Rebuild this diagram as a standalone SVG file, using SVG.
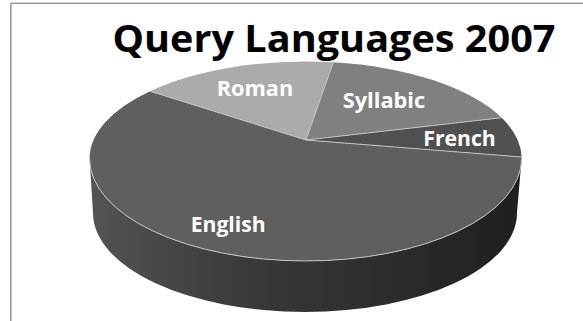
<svg xmlns="http://www.w3.org/2000/svg" width="583" height="321" viewBox="0 0 583 321">
  <defs>
    <linearGradient id="sideGrad" x1="89" y1="0" x2="522" y2="0" gradientUnits="userSpaceOnUse">
      <stop offset="0" stop-color="#545454"/>
      <stop offset="0.35" stop-color="#3a3a3a"/>
      <stop offset="0.7" stop-color="#2c2c2c"/>
      <stop offset="1" stop-color="#1f1f1f"/>
    </linearGradient>
  </defs>
  <style>
    .lbl { font-family: "Open Sans", "Liberation Sans", sans-serif; font-weight: bold; font-size: 21px; fill: #ffffff; }
    .title { font-family: "Open Sans", "Liberation Sans", sans-serif; font-weight: bold; font-size: 38px; fill: #000000; }
    .sep { fill: none; stroke: #c4c4c4; stroke-width: 1; }
    .frame { stroke: #9c9c9c; stroke-width: 1.6; fill: none; }
  </style>
  <rect x="0" y="0" width="583" height="321" fill="#ffffff"/>
  <g id="frame">
    <line class="frame" x1="10.8" y1="3.2" x2="583" y2="3.2"/>
    <line class="frame" x1="10.8" y1="3.2" x2="10.8" y2="321"/>
  </g>
  <g id="title">
    <text class="title" x="112.5" y="51.5" textLength="443" lengthAdjust="spacingAndGlyphs">Query Languages 2007</text>
  </g>
  <g id="side">
    <path d="M 89.6,158.5 L 93,213 A 212 99 0 0 0 517,213 L 521.6,158.5 A 216 102.5 0 0 1 89.6,158.5 Z" fill="url(#sideGrad)"/>
  </g>
  <g id="english">
    <path d="M 306,140 L 521.6,157 A 216 97 0 0 1 521.6,158.5 A 216 102.5 0 0 1 305.6,261 A 216 102.5 0 0 1 89.6,158.5 A 216 97 0 0 1 150,91.2 Z" fill="#5f5f5f"/>
    <text class="lbl" x="190.7" y="231.7" textLength="75" lengthAdjust="spacingAndGlyphs">English</text>
  </g>
  <g id="roman">
    <path d="M 306,140 L 150,91.2 A 216 97 0 0 1 333.3,62.3 Z" fill="#ababab"/>
    <text class="lbl" x="216.7" y="95.7" textLength="76.5" lengthAdjust="spacingAndGlyphs">Roman</text>
  </g>
  <g id="syllabic">
    <path d="M 306,140 L 333.3,62.3 A 216 97 0 0 1 501.7,117.7 Z" fill="#808080"/>
    <text class="lbl" x="342.7" y="108.3" textLength="82.5" lengthAdjust="spacingAndGlyphs">Syllabic</text>
  </g>
  <g id="french">
    <path d="M 306,140 L 501.7,117.7 A 216 97 0 0 1 521.6,157 Z" fill="#505050"/>
    <text class="lbl" x="423.3" y="146" textLength="72.5" lengthAdjust="spacingAndGlyphs">French</text>
  </g>
  <g id="connectors">
    <path class="sep" d="M 306,140 L 150,91.2"/>
    <path class="sep" d="M 306,140 L 333.3,62.3"/>
    <path class="sep" d="M 306,140 L 501.7,117.7"/>
    <path class="sep" d="M 306,140 L 521.6,157"/>
    <path class="sep" d="M 521.6,158.5 A 216 102.5 0 0 1 89.6,158.5" stroke="#cfcfcf" stroke-width="1.3"/>
  </g>
</svg>
